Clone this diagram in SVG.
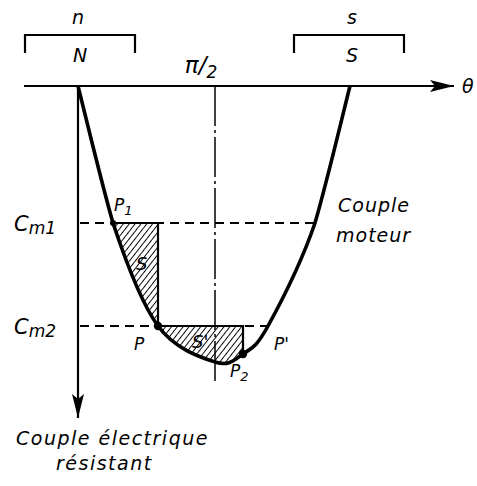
<svg xmlns="http://www.w3.org/2000/svg" width="477" height="486" viewBox="0 0 477 486">
<style>
.t{font-family:"DejaVu Sans","Liberation Sans",sans-serif;font-style:italic;fill:#000}
.ax{stroke:#000;stroke-width:2.2;fill:none}
.dash{stroke:#000;stroke-width:2.2;fill:none;stroke-dasharray:9 6}
.curve{stroke:#000;stroke-width:3.6;fill:none;stroke-linejoin:round}
.hatch{fill:url(#h);stroke:#000;stroke-width:2.2}
</style>
<defs>
<pattern id="h" width="4.6" height="4.6" patternUnits="userSpaceOnUse" patternTransform="rotate(38)">
<line x1="0" y1="0" x2="0" y2="4.6" stroke="#000" stroke-width="1.9"/>
</pattern>
<marker id="ar" viewBox="0 0 24 12" refX="24" refY="6" markerWidth="24" markerHeight="12" markerUnits="userSpaceOnUse" orient="auto">
<path d="M0,0 L24,6 L0,12 L5,6 Z" fill="#000"/>
</marker>
</defs>
<g id="brackets">
<path class="ax" d="M25,53 V35 H135 V53"/>
<path class="ax" d="M294,53 V35 H404 V53"/>
<text class="t" x="78" y="24" font-size="19" text-anchor="middle">n</text>
<text class="t" x="80" y="62" font-size="19" text-anchor="middle">N</text>
<text class="t" x="352" y="24" font-size="19" text-anchor="middle">s</text>
<text class="t" x="352" y="62" font-size="19" text-anchor="middle">S</text>
</g>
<g id="connectors">
<line class="ax" x1="24" y1="86" x2="454" y2="86" marker-end="url(#ar)"/>
<line class="ax" x1="78" y1="86" x2="78" y2="418" marker-end="url(#ar)"/>
<line x1="215" y1="86" x2="215" y2="384" stroke="#000" stroke-width="1.5" stroke-dasharray="40 4 3 4"/>
<line class="dash" x1="80" y1="223" x2="316" y2="223"/>
<line class="dash" x1="80" y1="326" x2="270" y2="326"/>
</g>
<g id="regions">
<path class="hatch" d="M113,223 C126.3,263 141,302.8 158,326 L158,223 Z"/>
<path class="hatch" d="M158,326 C175,349.2 200.8,357.3 215,362 C229.2,366.7 234.2,360 243,354 L243,326 Z"/>
</g>
<g id="curve">
<path class="curve" d="M78,86 C83.8,108.8 101.5,183 113,223 C126.3,263 141,302.8 158,326 C175,349.2 200.8,357.3 215,362 C229.2,366.7 234.2,360 243,354 C251.8,348 256,347.8 268,326 C280,304.2 301.3,263 315,223 C326.7,183 344.2,108.8 350,86"/>
<circle cx="158" cy="326" r="4.2"/>
<circle cx="243" cy="354" r="4.2"/>
<circle cx="113" cy="223" r="3"/>
</g>
<g id="labels">
<text class="t" x="201" y="73" font-size="23" font-style="normal" text-anchor="middle">π/<tspan font-size="17" dy="5">2</tspan></text>
<text class="t" x="462" y="93" font-size="19">θ</text>
<text class="t" x="14" y="231" font-size="21">C<tspan font-size="17" dy="3">m1</tspan></text>
<text class="t" x="14" y="334" font-size="21">C<tspan font-size="17" dy="3">m2</tspan></text>
<text class="t" x="114" y="211" font-size="17">P<tspan font-size="13" dy="4">1</tspan></text>
<text class="t" x="134" y="350" font-size="17">P</text>
<text class="t" x="136" y="270" font-size="18">S</text>
<text class="t" x="192" y="348" font-size="18">S'</text>
<text class="t" x="230" y="377" font-size="17">P<tspan font-size="13" dy="4">2</tspan></text>
<text class="t" x="274" y="350" font-size="17">P'</text>
<text class="t" x="338" y="212" font-size="19" font-style="normal" letter-spacing="1">Couple</text>
<text class="t" x="336" y="242" font-size="19" letter-spacing="1">moteur</text>
<text class="t" x="16" y="445" font-size="19" letter-spacing="1.5">Couple électrique</text>
<text class="t" x="56" y="470" font-size="19" letter-spacing="1.5">résistant</text>
</g>
</svg>
